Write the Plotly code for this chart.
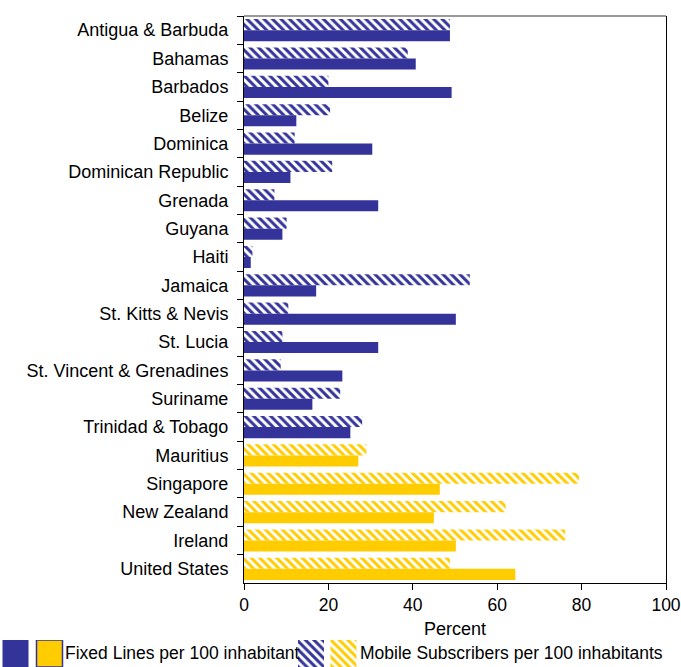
import plotly.graph_objects as go

# Telephone density: fixed lines vs mobile subscribers per 100 inhabitants
countries = [
    "Antigua & Barbuda", "Bahamas", "Barbados", "Belize", "Dominica",
    "Dominican Republic", "Grenada", "Guyana", "Haiti", "Jamaica",
    "St. Kitts & Nevis", "St. Lucia", "St. Vincent & Grenadines", "Suriname",
    "Trinidad & Tobago", "Mauritius", "Singapore", "New Zealand", "Ireland",
    "United States",
]
fixed_lines = [48.8, 40.7, 49.2, 12.4, 30.4, 11.0, 31.8, 9.1, 1.6, 17.1,
               50.2, 31.8, 23.3, 16.2, 25.2, 27.1, 46.4, 45.0, 50.2, 64.3]
mobile_subs = [48.8, 38.8, 20.0, 20.4, 12.0, 20.9, 7.2, 10.1, 2.0, 53.5,
               10.5, 9.1, 8.7, 22.8, 28.0, 29.0, 79.4, 62.0, 76.1, 48.8]
region = ["Caribbean"] * 15 + ["Comparator"] * 5

x_ticks = [0, 20, 40, 60, 80, 100]
fixed_label = "Fixed Lines per 100 inhabitant"
mobile_label = "Mobile Subscribers per 100 inhabitants"

NAVY = "#333399"
GOLD = "#FFCC00"
FONT = "Liberation Sans, Arial, sans-serif"
colour_map = {"Caribbean": NAVY, "Comparator": GOLD}
colours = [colour_map[r] for r in region]

W, H = 681, 667
plot_left, plot_right, plot_top, plot_bottom = 244, 666, 16, 583

hatch = dict(shape="\\", size=6, solidity=0.5, bgcolor="white")

fig = go.Figure()
fig.add_trace(go.Bar(
    y=countries, x=mobile_subs, orientation="h", name=mobile_label,
    marker=dict(color=colours, line=dict(width=0),
                pattern=dict(fgcolor=colours, fillmode="replace", **hatch)),
    showlegend=False,
))
fig.add_trace(go.Bar(
    y=countries, x=fixed_lines, orientation="h", name=fixed_label,
    marker=dict(color=colours, line=dict(width=0)),
    showlegend=False,
))

# Key drawn on its own small axis so the swatches can be full-size squares
key_centres = [15.5, 49.5, 311, 343.5]
key_colours = [NAVY, GOLD, NAVY, GOLD]
key_hatched = [False, False, True, True]
for cx, col, hatched, lw in zip(key_centres, key_colours, key_hatched, [0, 1.5, 0, 0]):
    marker = dict(color=col, line=dict(width=lw, color=NAVY))
    if hatched:
        marker["pattern"] = dict(fgcolor=col, fillmode="replace", **hatch)
    fig.add_trace(go.Bar(
        x=[cx], y=[1], width=[26], marker=marker,
        xaxis="x2", yaxis="y2", showlegend=False, hoverinfo="skip",
    ))

fig.update_layout(
    width=W, height=H,
    margin=dict(l=0, r=0, t=0, b=0),
    paper_bgcolor="white", plot_bgcolor="white",
    barmode="group", bargap=0.22, bargroupgap=0,
    font=dict(family=FONT, size=17, color="black"),
    xaxis=dict(
        domain=[plot_left / W, plot_right / W],
        range=[0, 100], tickvals=x_ticks, ticks="outside", ticklen=6,
        tickcolor="black", showline=True, linecolor="black", linewidth=1,
        showgrid=False, zeroline=False, anchor="y",
        tickfont=dict(size=17.5),
        title=dict(text="Percent", font=dict(size=18), standoff=8),
        automargin=False,
    ),
    yaxis=dict(
        domain=[1 - plot_bottom / H, 1 - plot_top / H],
        autorange="reversed", type="category",
        tickson="boundaries", ticks="outside", ticklen=6, tickcolor="black",
        showline=True, linecolor="black", linewidth=1, mirror=True,
        showgrid=False, zeroline=False, anchor="x",
        tickfont=dict(size=18), ticklabelstandoff=11,
        automargin=False,
    ),
    xaxis2=dict(domain=[0, 1], range=[0, W], visible=False, anchor="y2",
                fixedrange=True),
    yaxis2=dict(domain=[0, 27 / H], range=[0, 1], visible=False, anchor="x2",
                fixedrange=True),
    shapes=[dict(type="line", xref="x domain", yref="y domain",
                 x0=0, x1=1, y0=1, y1=1,
                 line=dict(color="#999999", width=2))],
    annotations=[
        dict(text=fixed_label, xref="paper", yref="paper",
             x=63 / W, y=1 - 653 / H, xanchor="left", yanchor="middle",
             showarrow=False, font=dict(size=17.5)),
        dict(text=mobile_label, xref="paper", yref="paper",
             x=358 / W, y=1 - 653 / H, xanchor="left", yanchor="middle",
             showarrow=False, font=dict(size=17.5)),
    ],
)

fig.write_html("out.html")
